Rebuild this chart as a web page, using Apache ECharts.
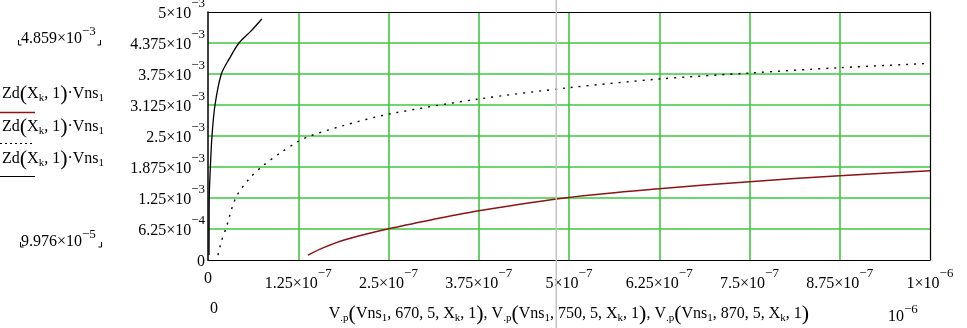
<!DOCTYPE html>
<html>
<head>
<meta charset="utf-8">
<script src="https://cdn.jsdelivr.net/npm/echarts@6/dist/echarts.min.js"></script>
<style>
  html, body { margin: 0; padding: 0; background: #fff; }
  #chart { width: 967px; height: 328px; }
</style>
</head>
<body>
<div id="chart"></div>
<script>
// Trace 1: V.p(Vns1, 670, 5, Xk, 1)  (red, solid)
const trace670X = [1.384e-7, 1.6e-7, 1.875e-7, 2.5e-7, 3.125e-7, 3.75e-7, 5e-7, 6.25e-7, 7.5e-7, 8.75e-7, 1e-6];
const trace670Y = [9.976e-5, 2.5e-4, 4.0e-4, 6.3e-4, 8.2e-4, 9.94e-4, 1.262e-3, 1.437e-3, 1.58e-3, 1.70e-3, 1.80e-3];

// Trace 2: V.p(Vns1, 750, 5, Xk, 1)  (black, dotted)
const trace750X = [1.38e-8, 1.85e-8, 2.46e-8, 3.83e-8, 5.6e-8, 7.39e-8, 1.0e-7, 1.25e-7, 1.41e-7, 1.875e-7, 2.5e-7, 3.75e-7, 5e-7, 6.25e-7, 7.5e-7, 8.75e-7, 1e-6];
const trace750Y = [9.976e-5, 3.75e-4, 6.25e-4, 1.25e-3, 1.62e-3, 1.875e-3, 2.157e-3, 2.39e-3, 2.5e-3, 2.71e-3, 2.94e-3, 3.246e-3, 3.474e-3, 3.649e-3, 3.77e-3, 3.877e-3, 3.964e-3];

// Trace 3: V.p(Vns1, 870, 5, Xk, 1)  (black, solid)
const trace870X = [1.4e-9, 1.55e-9, 1.7e-9, 3.3e-9, 5.5e-9, 9.7e-9, 1.85e-8, 3.0e-8, 4.29e-8, 5.91e-8, 7.45e-8];
const trace870Y = [9.976e-5, 6.0e-4, 1.25e-3, 1.875e-3, 2.5e-3, 3.125e-3, 3.75e-3, 4.07e-3, 4.375e-3, 4.609e-3, 4.859e-3];

// Axis tick labels: mantissa and power of ten
const xTickMantissa = ['0', '1.25', '2.5', '3.75', '5', '6.25', '7.5', '8.75', '1'];
const xTickExponent = ['', '−7', '−7', '−7', '−7', '−7', '−7', '−7', '−6'];
const yTickMantissa = ['0', '6.25', '1.25', '1.875', '2.5', '3.125', '3.75', '4.375', '5'];
const yTickExponent = ['', '−4', '−3', '−3', '−3', '−3', '−3', '−3', '−3'];

// Range readouts shown beside the plot
const yRangeMax = ['4.859', '−3'];
const yRangeMin = ['9.976', '−5'];
const xScaleExponent = '−6';

// Position of the trace cursor along x
const cursorX = 4.823e-7;

const FONT = '"Liberation Serif", "DejaVu Serif", serif';
const GREEN = '#3ec83e';
const RED = '#8e1414';

function zip(xs, ys) { return xs.map((x, i) => [x, ys[i]]); }

// Rich styles: vertical offsets come from asymmetric padding around middle-aligned tokens
const tickRich = {
  m: { fontFamily: FONT, fontSize: 16, padding: [4, 0, 0, 0], verticalAlign: 'middle', color: '#000' },
  e: { fontFamily: FONT, fontSize: 13, padding: [0, 0, 16, 0], verticalAlign: 'middle', color: '#000' }
};
const readRich = {
  m: { fontFamily: FONT, fontSize: 16, padding: [2, 0, 0, 0], verticalAlign: 'middle', color: '#000' },
  e: { fontFamily: FONT, fontSize: 13, padding: [0, 0, 13, 0], verticalAlign: 'middle', color: '#000' }
};
const exprRich = {
  n: { fontFamily: FONT, fontSize: 16, verticalAlign: 'middle', color: '#000' },
  p: { fontFamily: FONT, fontSize: 22, verticalAlign: 'middle', color: '#000' },
  s: { fontFamily: FONT, fontSize: 11, padding: [9, 0, 0, 0], verticalAlign: 'middle', color: '#000' }
};

function tickText(mant, exp) {
  return exp ? '{m|' + mant + '×10}{e|' + exp + '}' : '{m|' + mant + '}';
}

function vp(param) {
  return '{n|V}{s|.p}{p|(}{n|Vns}{s|1}{n|, ' + param + ', 5, X}{s|k}{n|, 1}{p|)}';
}
const xTitle = vp(670) + '{n|, }' + vp(750) + '{n|, }' + vp(870);
const legendExpr = '{n|Zd}{p|(}{n|X}{s|k}{n|, 1}{p|)}{n|·Vns}{s|1}';

const chart = echarts.init(document.getElementById('chart'), null, { renderer: 'canvas' });

const option = {
  animation: false,
  backgroundColor: '#fff',
  grid: { left: 208, top: 12, width: 722, height: 248, containLabel: false, outerBoundsMode: 'none' },
  xAxis: [
    {
      type: 'value', position: 'bottom', min: 0, max: 1e-6, interval: 1.25e-7,
      axisLine: { show: true, lineStyle: { color: '#000', width: 1.2 } },
      axisTick: { show: false },
      axisLabel: {
        margin: 7, showMinLabel: true, showMaxLabel: true, hideOverlap: false,
        formatter: (v, i) => tickText(xTickMantissa[i], xTickExponent[i]),
        rich: tickRich
      },
      splitLine: { show: true, showMinLine: false, showMaxLine: false, lineStyle: { color: GREEN, width: 1.6 } },
      name: xTitle,
      nameLocation: 'middle',
      nameGap: 43,
      nameTextStyle: { rich: exprRich, verticalAlign: 'top' }
    },
    {
      type: 'value', position: 'top', min: 0, max: 1e-6,
      axisLine: { show: true, onZero: false, lineStyle: { color: '#000', width: 1.2 } },
      axisTick: { show: false }, axisLabel: { show: false }, splitLine: { show: false }
    }
  ],
  yAxis: [
    {
      type: 'value', position: 'left', min: 0, max: 5e-3, interval: 6.25e-4,
      axisLine: { show: true, lineStyle: { color: '#000', width: 1.5 } },
      axisTick: { show: false },
      axisLabel: {
        margin: 3, showMinLabel: true, showMaxLabel: true, hideOverlap: false,
        formatter: (v, i) => tickText(yTickMantissa[i], yTickExponent[i]),
        rich: tickRich
      },
      splitLine: { show: true, showMinLine: false, showMaxLine: false, lineStyle: { color: GREEN, width: 1.6 } }
    },
    {
      type: 'value', position: 'right', min: 0, max: 5e-3,
      axisLine: { show: true, onZero: false, lineStyle: { color: '#000', width: 1.2 } },
      axisTick: { show: false }, axisLabel: { show: false }, splitLine: { show: false }
    }
  ],
  series: [
    {
      name: 'V.p 670', type: 'line', data: zip(trace670X, trace670Y),
      showSymbol: false, smooth: 0.3,
      lineStyle: { color: RED, width: 1.5 }, z: 5
    },
    {
      name: 'V.p 750', type: 'line', data: zip(trace750X, trace750Y),
      showSymbol: false, smooth: 0.3,
      lineStyle: { color: '#000', width: 1.4, type: [2, 6] }, z: 5
    },
    {
      name: 'V.p 870', type: 'line', data: zip(trace870X, trace870Y),
      showSymbol: false, smooth: 0.3,
      lineStyle: { color: '#000', width: 1.3 }, z: 5
    }
  ]
};
chart.setOption(option);

// Decorations beside the plot: trace legend, range readouts and cursor
const cx = chart.convertToPixel({ xAxisIndex: 0 }, cursorX);

function cornerMarks(x1, x2, yTop, yBot) {
  return [
    { type: 'polyline', shape: { points: [[x1, yTop], [x1, yBot], [x1 + 3, yBot]] }, style: { stroke: '#000', lineWidth: 1, fill: null } },
    { type: 'polyline', shape: { points: [[x2 - 3, yBot], [x2, yBot], [x2, yTop]] }, style: { stroke: '#000', lineWidth: 1, fill: null } }
  ];
}

const graphics = [
  { type: 'line', z: 100, shape: { x1: cx, y1: 0, x2: cx, y2: 328 }, style: { stroke: '#c4c4c4', lineWidth: 1.5 } },

  { type: 'text', style: { x: 2, y: 83, text: legendExpr, rich: exprRich, verticalAlign: 'top' } },
  { type: 'line', shape: { x1: 0, y1: 112.5, x2: 35, y2: 112.5 }, style: { stroke: RED, lineWidth: 1.3 } },
  { type: 'text', style: { x: 2, y: 116, text: legendExpr, rich: exprRich, verticalAlign: 'top' } },
  { type: 'line', shape: { x1: 0, y1: 143.5, x2: 32, y2: 143.5 }, style: { stroke: '#000', lineWidth: 1.2, lineDash: [2, 3] } },
  { type: 'text', style: { x: 2, y: 148, text: legendExpr, rich: exprRich, verticalAlign: 'top' } },
  { type: 'line', shape: { x1: 0, y1: 176.5, x2: 35, y2: 176.5 }, style: { stroke: '#000', lineWidth: 1 } },

  { type: 'text', style: { x: 21, y: 25, text: tickText(yRangeMax[0], yRangeMax[1]), rich: readRich, verticalAlign: 'top' } },
  ...cornerMarks(18.5, 100.5, 40, 45),
  { type: 'text', style: { x: 21, y: 228, text: tickText(yRangeMin[0], yRangeMin[1]), rich: readRich, verticalAlign: 'top' } },
  ...cornerMarks(20.5, 101.5, 242, 247),

  { type: 'text', style: { x: 214, y: 309, text: '0', font: '16px ' + FONT, fill: '#000', align: 'center', verticalAlign: 'middle' } },
  { type: 'text', style: { x: 888, y: 303, text: '{m|10}{e|' + xScaleExponent + '}', rich: readRich, verticalAlign: 'top' } }
];
chart.setOption({ graphic: graphics });
</script>
</body>
</html>
